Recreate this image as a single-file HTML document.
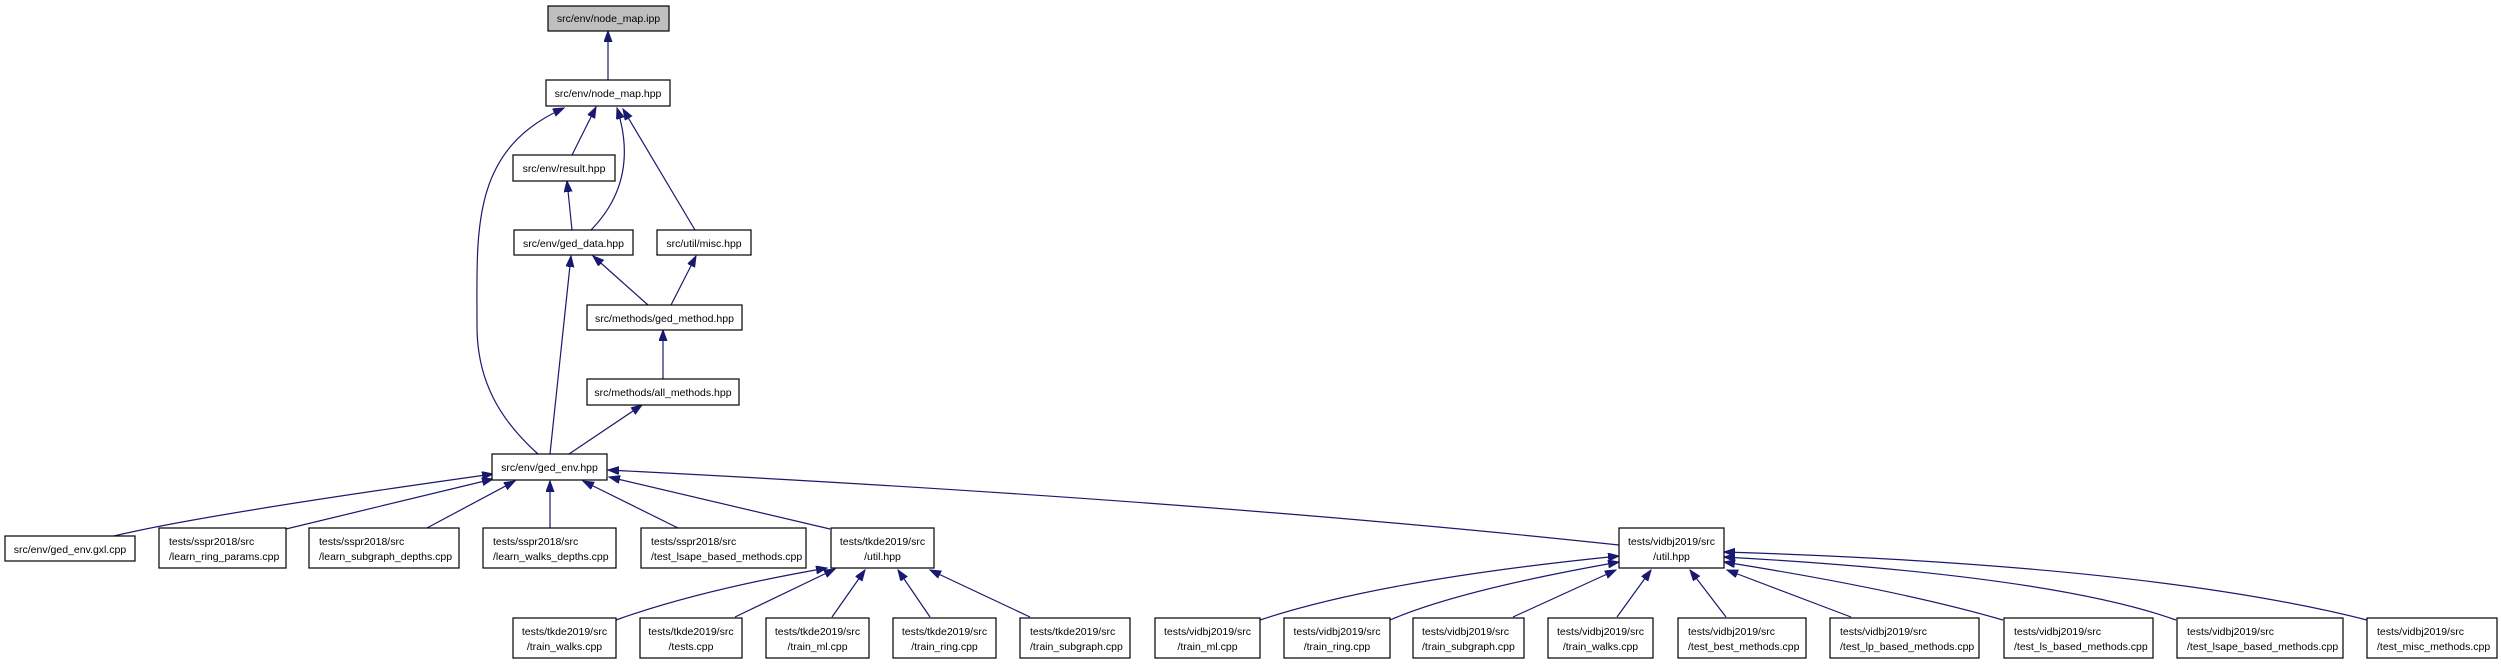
<!DOCTYPE html>
<html><head><meta charset="utf-8"><style>
html,body{margin:0;padding:0;background:#fff;}
svg{display:block;}
text{font-family:"Liberation Sans",Helvetica,sans-serif;font-size:10.5px;fill:#000;}
.b{fill:#fff;stroke:#000;stroke-width:1.2;}
.e{fill:none;stroke:#191970;stroke-width:1.2;marker-start:url(#a);}
</style></head><body>
<svg width="2501" height="664" viewBox="0 0 2501 664" xmlns="http://www.w3.org/2000/svg">
<defs>
<marker id="a" markerUnits="userSpaceOnUse" markerWidth="12" markerHeight="9" refX="11" refY="4" orient="auto-start-reverse">
<path d="M0,0 L11,4 L0,8 z" fill="#191970" stroke="#191970"/>
</marker>
</defs>

<!-- edges -->
<path class="e" d="M608,31 L608,80"/>
<path class="e" d="M596,107 L572,155"/>
<path class="e" d="M617,108 Q640,180 591,230"/>
<path class="e" d="M623,109 L695,230"/>
<path class="e" d="M567,181 L572,230"/>
<path class="e" d="M593,256 L648,305"/>
<path class="e" d="M696,256 L671,305"/>
<path class="e" d="M663,330 L663,379"/>
<path class="e" d="M642,405 L569,454"/>
<path class="e" d="M571,256 L550,454"/>
<path class="e" d="M564,108 C470,150 477,230 477,326 C477,381 500,420 538,454"/>

<path class="e" d="M493,474 Q200,515 114,536"/>
<path class="e" d="M493,479 L286,529"/>
<path class="e" d="M515,481 L425,529"/>
<path class="e" d="M550,481 L550,529"/>
<path class="e" d="M583,481 L680,529"/>
<path class="e" d="M609,477 L830,529"/>
<path class="e" d="M608,470 Q1200,500 1619,545"/>

<path class="e" d="M827,568 Q700,590 616,620"/>
<path class="e" d="M835,569 L735,617"/>
<path class="e" d="M865,570 L832,617"/>
<path class="e" d="M898,570 L930,617"/>
<path class="e" d="M930,570 L1030,617"/>

<path class="e" d="M1619,556 Q1380,580 1260,620"/>
<path class="e" d="M1619,562 Q1460,590 1390,620"/>
<path class="e" d="M1616,570 L1513,617"/>
<path class="e" d="M1651,570 L1617,617"/>
<path class="e" d="M1690,570 L1726,617"/>
<path class="e" d="M1727,570 L1851,617"/>
<path class="e" d="M1724,562 Q1900,590 2003,620"/>
<path class="e" d="M1724,557 Q2050,575 2176,620"/>
<path class="e" d="M1724,552 Q2150,565 2367,620"/>

<!-- nodes -->
<rect x="548" y="6" width="121" height="25" fill="#bfbfbf" stroke="#000" stroke-width="1.2"/>
<text x="608.5" y="22" text-anchor="middle">src/env/node_map.ipp</text>
<rect class="b" x="546" y="80" width="124" height="26"/><text x="608" y="97" text-anchor="middle">src/env/node_map.hpp</text>
<rect class="b" x="513" y="155" width="102" height="26"/><text x="564" y="172" text-anchor="middle">src/env/result.hpp</text>
<rect class="b" x="514" y="230" width="119" height="25"/><text x="573.5" y="247" text-anchor="middle">src/env/ged_data.hpp</text>
<rect class="b" x="657" y="230" width="94" height="25"/><text x="704" y="247" text-anchor="middle">src/util/misc.hpp</text>
<rect class="b" x="587" y="305" width="155" height="25"/><text x="664.5" y="322" text-anchor="middle">src/methods/ged_method.hpp</text>
<rect class="b" x="587" y="379" width="152" height="26"/><text x="663" y="396" text-anchor="middle">src/methods/all_methods.hpp</text>
<rect class="b" x="492" y="454" width="115" height="26"/><text x="549.5" y="471" text-anchor="middle">src/env/ged_env.hpp</text>

<rect class="b" x="5" y="536" width="130" height="25"/><text x="70" y="553" text-anchor="middle">src/env/ged_env.gxl.cpp</text>
<rect class="b" x="159" y="528" width="127" height="40"/><text x="169" y="545">tests/sspr2018/src</text><text x="169" y="560">/learn_ring_params.cpp</text>
<rect class="b" x="309" y="528" width="150" height="40"/><text x="319" y="545">tests/sspr2018/src</text><text x="319" y="560">/learn_subgraph_depths.cpp</text>
<rect class="b" x="483" y="528" width="133" height="40"/><text x="493" y="545">tests/sspr2018/src</text><text x="493" y="560">/learn_walks_depths.cpp</text>
<rect class="b" x="641" y="528" width="165" height="40"/><text x="651" y="545">tests/sspr2018/src</text><text x="651" y="560">/test_lsape_based_methods.cpp</text>
<rect class="b" x="831" y="528" width="103" height="40"/><text x="882.5" y="545" text-anchor="middle">tests/tkde2019/src</text><text x="882.5" y="560" text-anchor="middle">/util.hpp</text>
<rect class="b" x="1619" y="528" width="105" height="40"/><text x="1671.5" y="545" text-anchor="middle">tests/vidbj2019/src</text><text x="1671.5" y="560" text-anchor="middle">/util.hpp</text>

<rect class="b" x="513" y="618" width="103" height="40"/><text x="564.5" y="635" text-anchor="middle">tests/tkde2019/src</text><text x="564.5" y="650" text-anchor="middle">/train_walks.cpp</text>
<rect class="b" x="640" y="618" width="102" height="40"/><text x="691" y="635" text-anchor="middle">tests/tkde2019/src</text><text x="691" y="650" text-anchor="middle">/tests.cpp</text>
<rect class="b" x="766" y="618" width="103" height="40"/><text x="817.5" y="635" text-anchor="middle">tests/tkde2019/src</text><text x="817.5" y="650" text-anchor="middle">/train_ml.cpp</text>
<rect class="b" x="893" y="618" width="103" height="40"/><text x="944.5" y="635" text-anchor="middle">tests/tkde2019/src</text><text x="944.5" y="650" text-anchor="middle">/train_ring.cpp</text>
<rect class="b" x="1020" y="618" width="110" height="40"/><text x="1030" y="635">tests/tkde2019/src</text><text x="1030" y="650">/train_subgraph.cpp</text>
<rect class="b" x="1155" y="618" width="105" height="40"/><text x="1207.5" y="635" text-anchor="middle">tests/vidbj2019/src</text><text x="1207.5" y="650" text-anchor="middle">/train_ml.cpp</text>
<rect class="b" x="1284" y="618" width="106" height="40"/><text x="1337" y="635" text-anchor="middle">tests/vidbj2019/src</text><text x="1337" y="650" text-anchor="middle">/train_ring.cpp</text>
<rect class="b" x="1413" y="618" width="111" height="40"/><text x="1422" y="635">tests/vidbj2019/src</text><text x="1422" y="650">/train_subgraph.cpp</text>
<rect class="b" x="1548" y="618" width="105" height="40"/><text x="1600.5" y="635" text-anchor="middle">tests/vidbj2019/src</text><text x="1600.5" y="650" text-anchor="middle">/train_walks.cpp</text>
<rect class="b" x="1678" y="618" width="128" height="40"/><text x="1688" y="635">tests/vidbj2019/src</text><text x="1688" y="650">/test_best_methods.cpp</text>
<rect class="b" x="1830" y="618" width="149" height="40"/><text x="1840" y="635">tests/vidbj2019/src</text><text x="1840" y="650">/test_lp_based_methods.cpp</text>
<rect class="b" x="2004" y="618" width="149" height="40"/><text x="2014" y="635">tests/vidbj2019/src</text><text x="2014" y="650">/test_ls_based_methods.cpp</text>
<rect class="b" x="2177" y="618" width="166" height="40"/><text x="2187" y="635">tests/vidbj2019/src</text><text x="2187" y="650">/test_lsape_based_methods.cpp</text>
<rect class="b" x="2367" y="618" width="130" height="40"/><text x="2377" y="635">tests/vidbj2019/src</text><text x="2377" y="650">/test_misc_methods.cpp</text>
</svg>
</body></html>
